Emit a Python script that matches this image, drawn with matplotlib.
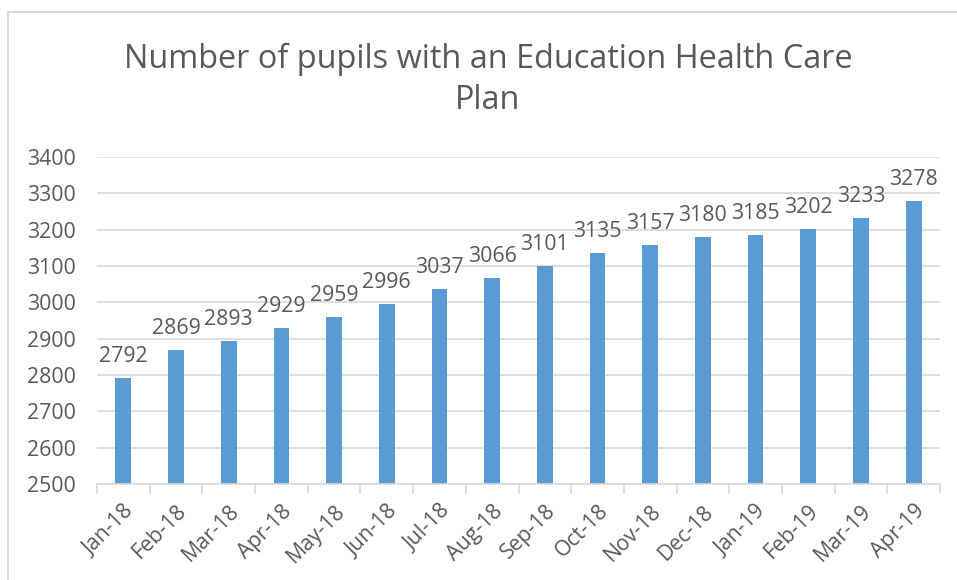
import matplotlib.pyplot as plt
from matplotlib.patches import Rectangle

months = ["Jan-18", "Feb-18", "Mar-18", "Apr-18", "May-18", "Jun-18", "Jul-18", "Aug-18",
          "Sep-18", "Oct-18", "Nov-18", "Dec-18", "Jan-19", "Feb-19", "Mar-19", "Apr-19"]
pupils = [2792, 2869, 2893, 2929, 2959, 2996, 3037, 3066,
          3101, 3135, 3157, 3180, 3185, 3202, 3233, 3278]
y_ticks = [2500, 2600, 2700, 2800, 2900, 3000, 3100, 3200, 3300, 3400]

TEXT = "#595959"
GRID = "#D9D9D9"
BAR = "#5B9BD5"

plt.rcParams['font.family'] = ['Open Sans', 'DejaVu Sans']

fig = plt.figure(figsize=(9.57, 5.8), dpi=100)
ax = fig.add_axes([97 / 957, 1 - 484 / 580, (940 - 97) / 957, (484 - 157) / 580])

x = range(len(months))
bars = ax.bar(x, pupils, width=0.3, color=BAR, zorder=2)
for xi, v in zip(x, pupils):
    ax.annotate(str(v), (xi, v), xytext=(0, 8), textcoords="offset points",
                ha="center", va="bottom", fontsize=15.3, color=TEXT)

ax.set_xlim(-0.5, len(months) - 0.5)
ax.set_ylim(2500, 3400)
ax.set_yticks(y_ticks)
ax.set_yticklabels([str(t) for t in y_ticks], fontsize=15.3, color=TEXT)
ax.tick_params(axis="y", length=0, pad=15)

ax.set_xticks(list(x))
ax.set_xticklabels(months, rotation=45, ha="right", rotation_mode="anchor",
                   fontsize=15.3, color=TEXT)
ax.tick_params(axis="x", length=0, pad=12)
# category boundary ticks
ax.set_xticks([i - 0.5 for i in range(len(months) + 1)], minor=True)
ax.tick_params(axis="x", which="minor", length=7, color=GRID, width=1.2)

ax.yaxis.grid(True, color=GRID, linewidth=1.2, zorder=0)
for s in ["top", "right", "left"]:
    ax.spines[s].set_visible(False)
ax.spines["bottom"].set_color(GRID)
ax.spines["bottom"].set_linewidth(1.2)

fig.text(488 / 957, 1 - 80 / 580, "Number of pupils with an Education Health Care\nPlan",
         ha="center", va="center", fontsize=23.4, color=TEXT, linespacing=1.3)

fig.patches.append(Rectangle((8 / 957, -0.1), 2, 1 - 12 / 580 + 0.1, transform=fig.transFigure,
                             facecolor="none", edgecolor=GRID, linewidth=1.5))

fig.savefig("out.png", dpi=100)
